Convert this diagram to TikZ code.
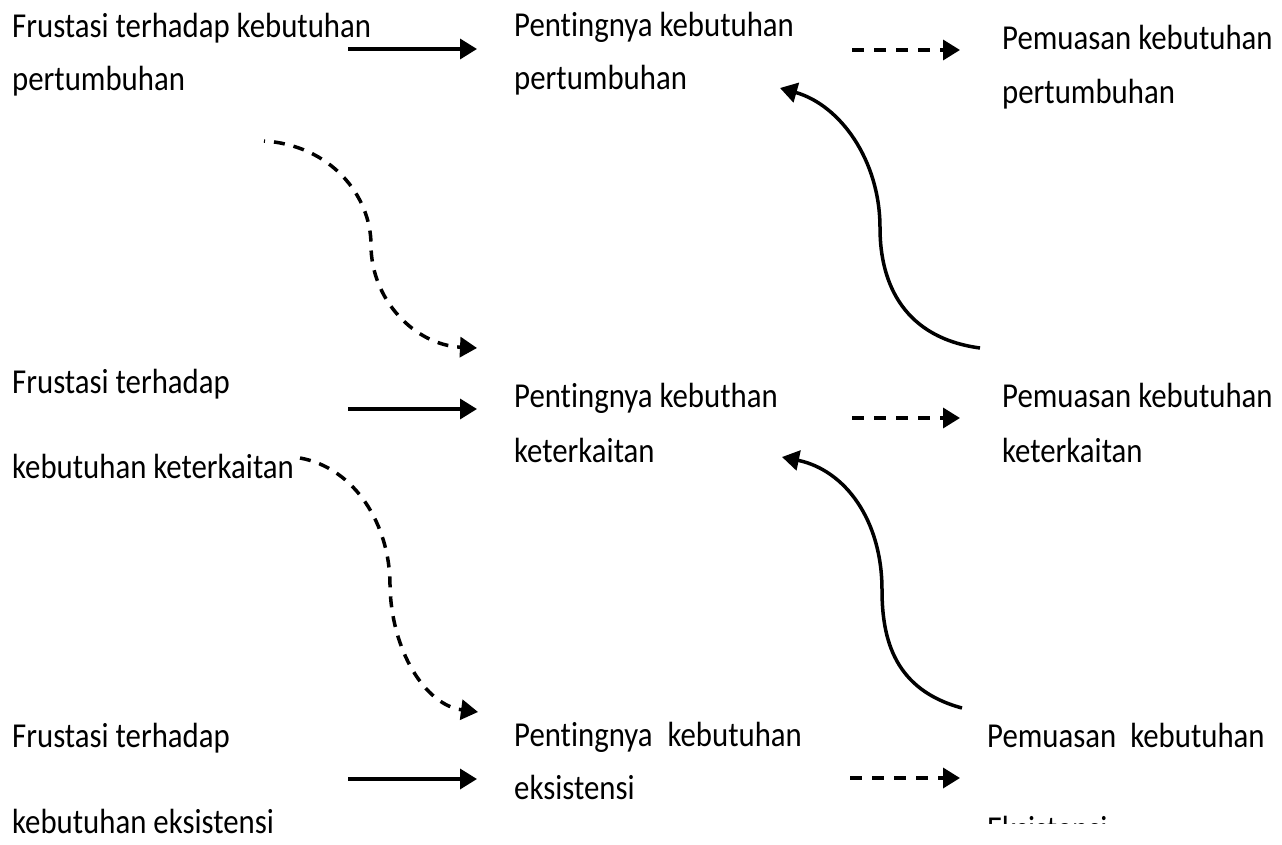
\documentclass[tikz,border=0pt]{standalone}
\usepackage{fontspec}
\setmainfont{Carlito}[FakeStretch=0.88, Ligatures={NoCommon}]
\usetikzlibrary{arrows.meta}
\begin{document}
\begin{tikzpicture}[x=1pt,y=-1pt,
  txt/.style={anchor=base west, inner sep=0pt, font=\fontsize{35}{40}\selectfont},
  tip/.style={-{Triangle[length=17pt,width=20pt]}},
  solidarrow/.style={tip, line width=3.5pt},
  dasharrow/.style={tip, line width=3.5pt, dash pattern=on 12pt off 10pt},
  curvesolid/.style={tip, line width=3.5pt},
  curvedash/.style={tip, line width=3.5pt, dash pattern=on 11pt off 9pt}]
\useasboundingbox (0,0) rectangle (1282,845);

% Row 1
\node[txt] (l1a) at (12,38) {Frustasi terhadap kebutuhan};
\node[txt] (l1b) at (12,91) {pertumbuhan};
\node[txt] (m1a) at (514,37) {Pentingnya kebutuhan};
\node[txt] (m1b) at (514,90) {pertumbuhan};
\node[txt] (r1a) at (1002,50) {Pemuasan kebutuhan};
\node[txt] (r1b) at (1002,104) {pertumbuhan};

% Row 2
\node[txt] (l2a) at (12,393) {Frustasi terhadap};
\node[txt] (l2b) at (12,478) {kebutuhan keterkaitan};
\node[txt] (m2a) at (514,407) {Pentingnya kebuthan};
\node[txt] (m2b) at (514,462) {keterkaitan};
\node[txt] (r2a) at (1002,407) {Pemuasan kebutuhan};
\node[txt] (r2b) at (1002,462) {keterkaitan};

% Row 3
\node[txt] (l3a) at (12,747) {Frustasi terhadap};
\node[txt] (l3b) at (12,833) {kebutuhan eksistensi};
\node[txt] (m3a) at (514,746) {Pentingnya\hspace{8pt} kebutuhan};
\node[txt] (m3b) at (514,799) {eksistensi};
\node[txt] (r3a) at (987,747) {Pemuasan\hspace{7pt} kebutuhan};
\begin{scope}
  \clip (970,700) rectangle (1282,823);
  \node[txt] (r3b) at (987,840) {Eksistensi};
\end{scope}

% connector end points
\coordinate (s1a) at (348,49);  \coordinate (s1b) at (477,49);
\coordinate (s2a) at (348,409); \coordinate (s2b) at (477,409);
\coordinate (s3a) at (348,779); \coordinate (s3b) at (477,779);
\coordinate (d1a) at (852,50);  \coordinate (d1b) at (960,50);
\coordinate (d2a) at (852,418); \coordinate (d2b) at (960,418);
\coordinate (d3a) at (850,778); \coordinate (d3b) at (960,778);

\coordinate (c1s) at (264,141); \coordinate (c1m) at (371,245); \coordinate (c1e) at (477,348);
\coordinate (c2s) at (300,458); \coordinate (c2m) at (390,585); \coordinate (c2e) at (478,712);
\coordinate (u1s) at (980,348); \coordinate (u1m) at (880,228); \coordinate (u1e) at (780,88);
\coordinate (u2s) at (962,708); \coordinate (u2m) at (882,590); \coordinate (u2e) at (782,457);

% horizontal arrows
\draw[solidarrow] (s1a) -- (s1b);
\draw[solidarrow] (s2a) -- (s2b);
\draw[solidarrow] (s3a) -- (s3b);
\draw[dasharrow] (d1a) -- (d1b);
\draw[dasharrow] (d2a) -- (d2b);
\draw[dasharrow] (d3a) -- (d3b);

% dashed S-curves
\draw[curvedash, dash phase=10pt] (c1s) .. controls (330,145) and (371,195) .. (c1m)
  .. controls (371,300) and (415,345) .. (c1e);
\draw[curvedash] (c2s) .. controls (355,468) and (390,525) .. (c2m)
  .. controls (391,650) and (425,705) .. (c2e);

% solid S-curves
\draw[curvesolid] (u1s) .. controls (905,338) and (880,285) .. (u1m)
  .. controls (880,160) and (840,105) .. (u1e);
\draw[curvesolid] (u2s) .. controls (895,690) and (882,640) .. (u2m)
  .. controls (882,520) and (845,470) .. (u2e);
\end{tikzpicture}
\end{document}
